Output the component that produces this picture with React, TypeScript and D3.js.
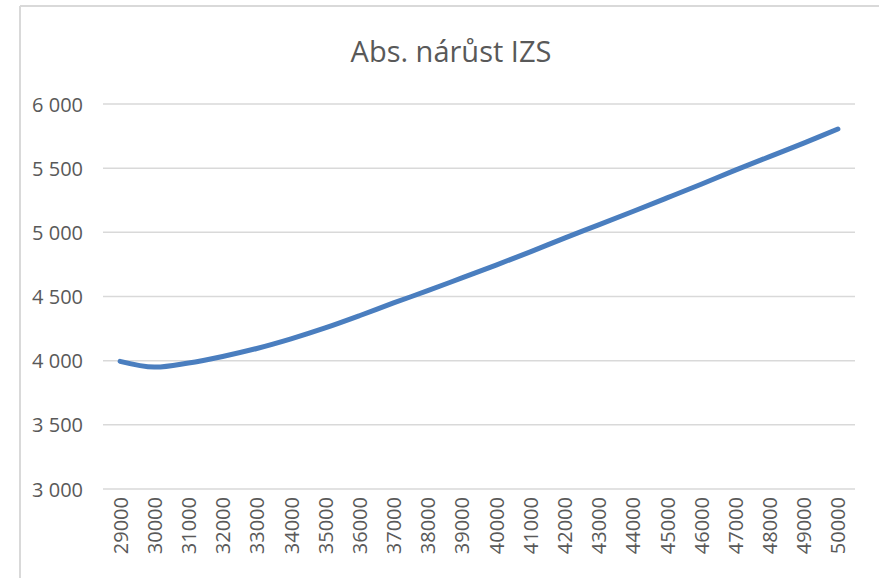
import React from "react";
import * as d3 from "d3";

const categories = [
  "29000", "30000", "31000", "32000", "33000", "34000", "35000", "36000",
  "37000", "38000", "39000", "40000", "41000", "42000", "43000", "44000",
  "45000", "46000", "47000", "48000", "49000", "50000",
];
const values = [
  3995, 3950, 3982, 4033, 4095, 4170, 4255, 4350, 4450, 4545, 4645, 4745,
  4848, 4955, 5058, 5162, 5268, 5375, 5485, 5590, 5695, 5805,
];
const yTicks = [3000, 3500, 4000, 4500, 5000, 5500, 6000];
const title = "Abs. nárůst IZS";

const W = 879;
const H = 578;
const plot = { left: 103, right: 855, top: 104, bottom: 489 };
const font = "'Open Sans', sans-serif";
const textColor = "#595959";
const gridColor = "#d9d9d9";

export default function App() {
  const x = d3.scaleBand().domain(categories).range([plot.left, plot.right]);
  const y = d3.scaleLinear().domain([3000, 6000]).range([plot.bottom, plot.top]);

  // hladká čára jako v Excelu
  const line = d3
    .line<number>()
    .x((_, i) => (x(categories[i]) ?? 0) + x.bandwidth() / 2)
    .y((d) => y(d))
    .curve(d3.curveCatmullRom.alpha(0.5));

  const fmt = (v: number) => d3.format(",")(v).replace(",", " ");

  return (
    <svg
      width={W}
      height={H}
      style={{ position: "absolute", left: 0, top: 0, background: "#fff" }}
      fontFamily={font}
    >
      {/* rámeček grafu */}
      <line x1={20} y1={6} x2={W} y2={6} stroke={gridColor} strokeWidth={2} />
      <line x1={20} y1={6} x2={20} y2={H} stroke={gridColor} strokeWidth={2} />

      <text x={451} y={62} textAnchor="middle" fontSize={29} fill={textColor}>
        {title}
      </text>

      {yTicks.map((t) => (
        <g key={t}>
          <line
            x1={plot.left}
            x2={plot.right}
            y1={y(t)}
            y2={y(t)}
            stroke={gridColor}
            strokeWidth={1.5}
          />
          <text
            x={83}
            y={y(t)}
            textAnchor="end"
            dominantBaseline="central"
            fontSize={20}
            fill={textColor}
          >
            {fmt(t)}
          </text>
        </g>
      ))}

      {categories.map((c) => {
        const cx = (x(c) ?? 0) + x.bandwidth() / 2;
        return (
          <text
            key={c}
            transform={`translate(${cx}, 497) rotate(-90)`}
            textAnchor="end"
            dominantBaseline="central"
            fontSize={20}
            fill={textColor}
          >
            {c}
          </text>
        );
      })}

      <path
        d={line(values) ?? ""}
        fill="none"
        stroke="#4a7ebf"
        strokeWidth={5}
        strokeLinecap="round"
        strokeLinejoin="round"
      />
    </svg>
  );
}
